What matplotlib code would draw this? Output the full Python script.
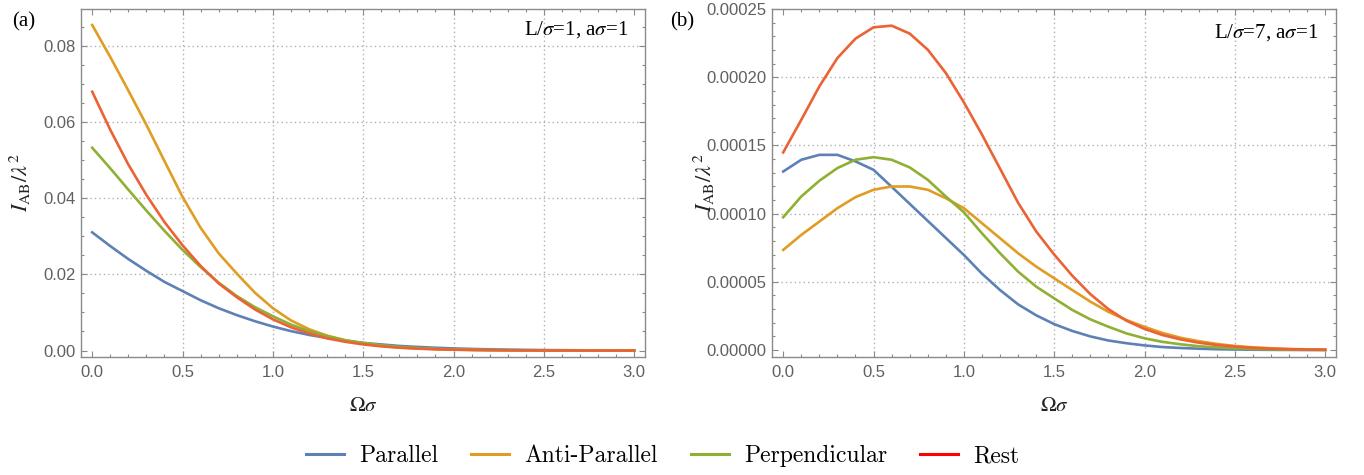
import os

import matplotlib
matplotlib.use("Agg")
import matplotlib.pyplot as plt
from matplotlib.font_manager import FontProperties
from matplotlib.lines import Line2D
from matplotlib.ticker import FormatStrFormatter, MultipleLocator

# ── data ───────────────────────────────────────────────────────────
omega = [round(0.1 * i, 1) for i in range(31)]

labels = ["Parallel", "Anti-Parallel", "Perpendicular", "Rest"]

# panel (a): L/sigma = 1
a_parallel = [0.0310, 0.0274, 0.0240, 0.0209, 0.0180, 0.0156, 0.0132, 0.0111,
              0.0093, 0.0077, 0.0063, 0.0051, 0.0041, 0.0033, 0.0026, 0.0020,
              0.0016, 0.0012, 0.00095, 0.00073, 0.00055, 0.00042, 0.00031,
              0.00023, 0.00017, 0.00012, 0.00009, 0.00006, 0.00004, 0.00003,
              0.00002]
a_anti = [0.0854, 0.0770, 0.0682, 0.0592, 0.0497, 0.0403, 0.0322, 0.0255,
          0.0202, 0.0152, 0.0111, 0.0079, 0.0056, 0.0039, 0.0027, 0.0018,
          0.0012, 0.0008, 0.00055, 0.00037, 0.00025, 0.00016, 0.00010,
          0.00007, 0.00004, 0.00003, 0.00002, 0.00001, 0.00001, 0.0, 0.0]
a_perp = [0.0532, 0.0478, 0.0422, 0.0367, 0.0314, 0.0264, 0.0219, 0.0178,
          0.0143, 0.0114, 0.0090, 0.0068, 0.0051, 0.0038, 0.0027, 0.0020,
          0.0014, 0.00096, 0.00066, 0.00044, 0.00029, 0.00019, 0.00012,
          0.00008, 0.00005, 0.00003, 0.00002, 0.00001, 0.0, 0.0, 0.0]
a_rest = [0.0679, 0.0579, 0.0488, 0.0408, 0.0337, 0.0276, 0.0222, 0.0176,
          0.0140, 0.0108, 0.0082, 0.0061, 0.0045, 0.0032, 0.0023, 0.0016,
          0.0011, 0.00075, 0.0005, 0.00033, 0.00022, 0.00014, 0.00009,
          0.00006, 0.00004, 0.00002, 0.00001, 0.00001, 0.0, 0.0, 0.0]

# panel (b): L/sigma = 7  (values in units of 1e-4)
b_parallel = [1.309, 1.395, 1.431, 1.431, 1.383, 1.321, 1.197, 1.072, 0.947,
              0.822, 0.697, 0.560, 0.440, 0.335, 0.255, 0.190, 0.140, 0.100,
              0.070, 0.050, 0.034, 0.022, 0.015, 0.010, 0.006, 0.004, 0.0025,
              0.0015, 0.001, 0.0006, 0.0004]
b_anti = [0.734, 0.844, 0.942, 1.040, 1.121, 1.175, 1.199, 1.199, 1.175,
          1.113, 1.040, 0.930, 0.820, 0.710, 0.612, 0.526, 0.440, 0.355,
          0.280, 0.220, 0.170, 0.125, 0.090, 0.065, 0.045, 0.030, 0.020,
          0.013, 0.008, 0.005, 0.003]
b_perp = [0.974, 1.126, 1.241, 1.334, 1.395, 1.414, 1.395, 1.339, 1.248,
          1.126, 1.010, 0.856, 0.710, 0.575, 0.465, 0.379, 0.294, 0.225,
          0.171, 0.122, 0.086, 0.060, 0.042, 0.028, 0.019, 0.013, 0.008,
          0.005, 0.003, 0.002, 0.001]
b_rest = [1.449, 1.688, 1.933, 2.141, 2.283, 2.366, 2.378, 2.320, 2.202,
          2.031, 1.816, 1.580, 1.330, 1.080, 0.870, 0.700, 0.545, 0.410,
          0.300, 0.215, 0.155, 0.110, 0.078, 0.054, 0.037, 0.025, 0.016,
          0.010, 0.006, 0.004, 0.002]

line_colors = ["#5E81B5", "#E19C24", "#8FB032", "#EB6235"]
legend_colors = ["#5E81B5", "#E19C24", "#8FB032", "#FF0000"]

# ── styling ───────────────────────────────────────────────────────
SPINE = "#8a8a8a"
TICKLBL = "#606060"
GRID = "#b0b0b0"

plt.rcParams["font.family"] = ["Liberation Sans", "DejaVu Sans"]
plt.rcParams["mathtext.fontset"] = "stix"

cm_font = FontProperties(
    fname=os.path.join(matplotlib.get_data_path(), "fonts", "ttf", "cmr10.ttf"),
    size=17,
)
serif = ["Liberation Serif", "DejaVu Serif"]


def style_axes(ax, ymajor, yminor, yfmt, ygrid):
    for sp in ax.spines.values():
        sp.set_color(SPINE)
        sp.set_linewidth(1.0)
    ax.xaxis.set_major_locator(MultipleLocator(0.5))
    ax.xaxis.set_minor_locator(MultipleLocator(0.1))
    ax.yaxis.set_major_locator(MultipleLocator(ymajor))
    ax.yaxis.set_minor_locator(MultipleLocator(yminor))
    ax.xaxis.set_major_formatter(FormatStrFormatter("%.1f"))
    ax.yaxis.set_major_formatter(FormatStrFormatter(yfmt))
    ax.tick_params(which="both", direction="in", top=True, right=True,
                   color=SPINE, width=0.8, labelcolor=TICKLBL, labelsize=12)
    ax.tick_params(which="major", length=4.5)
    ax.tick_params(which="minor", length=2.5)
    ax.tick_params(axis="x", pad=6)
    ax.tick_params(axis="y", pad=4)
    for gx in [0.5, 1.0, 1.5, 2.0, 2.5]:
        ax.axvline(gx, color=GRID, lw=1.0, ls=(0, (1, 2.2)), zorder=0)
    for gy in ygrid:
        ax.axhline(gy, color=GRID, lw=1.0, ls=(0, (1, 2.2)), zorder=0)
    ax.set_xlim(-0.062, 3.06)
    ax.set_xlabel(r"$\Omega\sigma$", fontsize=15, color="#222222", labelpad=11)


fig = plt.figure(figsize=(13.64, 4.75), dpi=100)
fig.patch.set_facecolor("white")

ax1 = fig.add_axes([0.0594, 0.2484, 0.4135, 0.7326])
ax2 = fig.add_axes([0.566, 0.2484, 0.4135, 0.7326])

for series, c in zip([a_parallel, a_anti, a_perp, a_rest], line_colors):
    ax1.plot(omega, series, color=c, lw=1.9, solid_joinstyle="round")
for series, c in zip([b_parallel, b_anti, b_perp, b_rest], line_colors):
    ax2.plot(omega, [v * 1e-4 for v in series], color=c, lw=1.9,
             solid_joinstyle="round")

style_axes(ax1, 0.02, 0.005, "%.2f", [0.02, 0.04, 0.06, 0.08])
ax1.set_ylim(-0.0017, 0.0896)
style_axes(ax2, 0.00005, 0.00001, "%.5f", [0.00005, 0.0001, 0.00015, 0.0002])
ax2.set_ylim(-0.0000051, 0.00025)

ylab = r"$I_{\mathrm{AB}}/\lambda^2$"
ax1.set_ylabel(ylab, fontsize=16, color="#222222")
ax1.yaxis.set_label_coords(-0.085, 0.5)
ax2.set_ylabel(ylab, fontsize=16, color="#222222")
ax2.yaxis.set_label_coords(-0.098, 0.5)

ax1.text(0.97, 0.942, r"L/$\sigma$=1, a$\sigma$=1", transform=ax1.transAxes,
         ha="right", va="center", fontsize=15, family=serif)
ax2.text(0.968, 0.931, r"L/$\sigma$=7, a$\sigma$=1", transform=ax2.transAxes,
         ha="right", va="center", fontsize=15, family=serif)

fig.text(12 / 1364, 1 - 22 / 475, "(a)", fontsize=15, family=serif, va="center")
fig.text(670 / 1364, 1 - 22 / 475, "(b)", fontsize=15, family=serif, va="center")

handles = [Line2D([], [], color=c, lw=2.2) for c in legend_colors]
fig.legend(handles, labels, loc="center", bbox_to_anchor=(0.486, 0.040),
           ncol=4, frameon=False, prop=cm_font, handlelength=1.6,
           handletextpad=0.65, columnspacing=1.4)

fig.savefig("out.png", dpi=100, facecolor="white")
